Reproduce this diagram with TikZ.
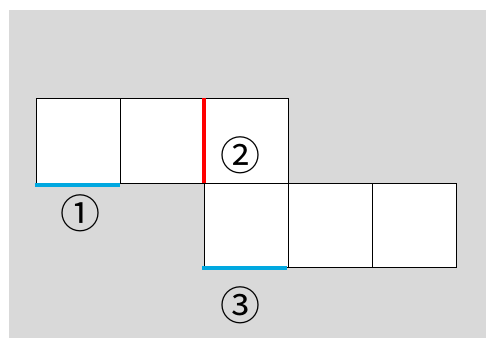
\documentclass[tikz,border=0pt]{standalone}
\usepackage{fontspec}
\newfontfamily\symfont{Noto Sans CJK JP}
\definecolor{bg}{HTML}{D9D9D9}
\definecolor{cblue}{HTML}{00A8E0}
\definecolor{cred}{HTML}{FF0000}
\tikzset{
  cell/.style={draw=black, fill=white, line width=1pt},
  redge/.style={draw=cred, line width=4pt},
  bedge/.style={draw=cblue, line width=4pt},
  lbl/.style={font=\symfont\fontsize{40}{40}\selectfont, inner sep=0pt}
}
\begin{document}
\begin{tikzpicture}[x=1pt,y=-1pt]
\useasboundingbox (0,0) rectangle (493,338);
\fill[bg] (9,10) rectangle (486,338);
\path[cell] (36,98) rectangle (120,183);
\path[cell] (120,98) rectangle (204,183);
\path[cell] (204,98) rectangle (288,183);
\path[cell] (204,183) rectangle (288,267);
\path[cell] (288,183) rectangle (372,267);
\path[cell] (372,183) rectangle (456,267);
\coordinate (r1) at (204,98);
\coordinate (r2) at (204,183);
\coordinate (b1a) at (35,184.5);
\coordinate (b1b) at (120,184.5);
\coordinate (b3a) at (202,267.5);
\coordinate (b3b) at (287,267.5);
\draw[redge] (r1) -- (r2);
\draw[bedge] (b1a) -- (b1b);
\draw[bedge] (b3a) -- (b3b);
\node[lbl] (l1) at (80,213) {①};
\node[lbl] (l2) at (240,155) {②};
\node[lbl] (l3) at (240,305) {③};
\end{tikzpicture}
\end{document}
